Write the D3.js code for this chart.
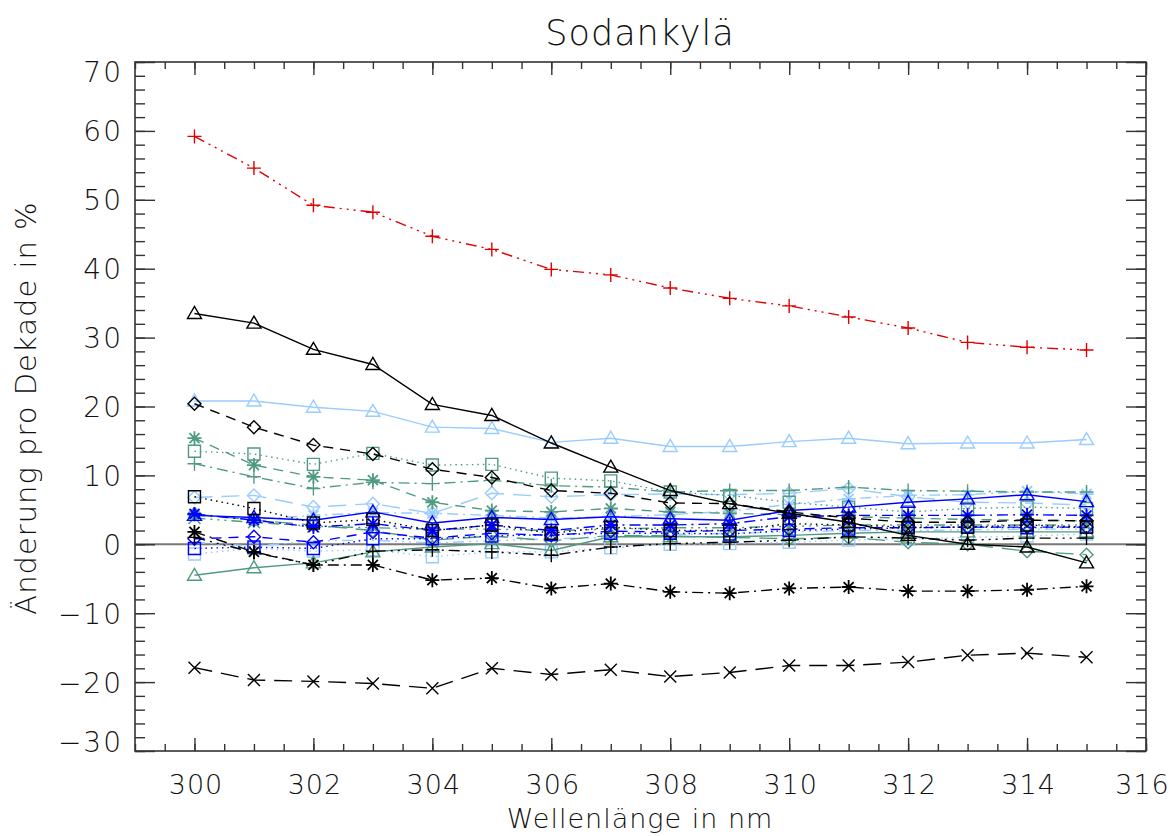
<!DOCTYPE html>
<html>
<head>
<meta charset="utf-8">
<script src="https://cdn.jsdelivr.net/npm/d3@7"></script>
<style>
  html, body { margin: 0; padding: 0; background: #fff; }
  svg { display: block; }
  text { font-family: "DejaVu Sans ExtraLight", "DejaVu Sans", sans-serif; font-weight: 200; fill: #111; }
</style>
</head>
<body>
<svg id="chart" width="1173" height="836"></svg>
<script>
// ---------- data ----------
const wavelengths = [300,301,302,303,304,305,306,307,308,309,310,311,312,313,314,315];
const xTickValues = [300,302,304,306,308,310,312,314,316];
const yTickValues = [-30,-20,-10,0,10,20,30,40,50,60,70];
const titleText = "Sodankylä";
const xTitle = "Wellenlänge in nm";
const yTitle = "Änderung pro Dekade in %";

const redPlus        = [59.2,54.6,49.2,48.2,44.7,42.8,39.9,39.1,37.2,35.7,34.6,33.0,31.4,29.3,28.6,28.2];
const blackTriangle  = [33.5,32.1,28.3,26.1,20.3,18.7,14.7,11.2,7.8,5.9,4.5,3.2,1.3,0.0,-0.4,-2.7];
const lightTriangle  = [20.8,20.8,19.9,19.3,17.0,16.8,14.8,15.4,14.2,14.2,14.9,15.4,14.6,14.7,14.7,15.2];
const blackDiamond   = [20.4,17.0,14.4,13.1,10.9,9.7,7.8,7.4,6.0,5.9,4.7,3.8,3.2,3.2,3.5,3.4];
const tealSquare     = [13.5,13.1,11.6,13.2,11.5,11.6,9.6,9.2,7.6,7.1,6.1,5.4,4.7,5.2,5.4,5.2];
const tealAsterisk   = [15.4,11.5,9.8,9.3,6.1,4.9,4.7,5.2,4.7,4.5,4.3,4.0,3.8,3.6,3.5,3.4];
const tealPlus       = [11.7,9.8,8.1,9.0,8.8,9.3,8.5,8.3,7.6,7.8,7.8,8.3,7.8,7.7,7.6,7.6];
const lightDiamond   = [6.8,7.1,5.4,5.9,4.5,7.4,6.9,7.2,7.3,7.2,7.4,8.1,6.9,6.1,6.0,5.7];
const lightAsterisk  = [4.2,3.6,4.2,4.6,4.5,4.2,3.8,4.0,4.3,4.8,5.8,6.6,7.1,7.2,7.7,7.3];
const lightSquare    = [-1.4,-0.6,-1.0,-0.8,-1.8,-1.1,-1.1,-0.5,0.0,0.1,0.3,0.6,0.8,1.0,1.2,1.5];
const lightDots      = [0.3,-0.3,0.5,0.6,0.2,0.5,0.8,1.0,1.4,1.6,1.8,2.0,2.0,2.1,2.2,2.2];
const blueTriangle   = [4.2,3.9,3.5,4.7,3.1,3.9,3.6,4.0,3.7,3.5,4.9,5.4,6.1,6.6,7.2,6.2];
const blueDiamond    = [0.8,1.1,0.3,1.8,0.9,1.6,1.3,1.9,1.8,2.0,2.2,2.4,2.4,2.5,2.5,2.5];
const blueAsterisk   = [4.4,3.5,2.5,3.0,2.0,2.8,2.0,2.8,2.8,3.0,4.0,4.2,4.2,4.2,4.3,4.2];
const blueSquare     = [-0.6,-0.4,-0.6,0.8,0.8,1.2,1.4,1.6,1.6,1.5,2.0,2.2,2.4,2.5,2.4,2.5];
const tealTriangle   = [-4.5,-3.4,-2.7,-1.1,-0.4,0.1,-0.9,1.1,1.1,1.1,1.3,1.6,1.8,1.8,1.8,1.8];
const tealDiamond    = [4.4,3.5,2.8,2.0,0.6,1.2,0.5,1.3,1.2,1.0,0.8,1.0,0.3,0.0,-1.0,-1.5];
const tealCross      = [3.8,3.2,2.6,2.4,2.2,2.2,2.0,2.2,2.4,2.4,2.6,2.8,2.8,2.8,2.8,2.8];
const blackSquare    = [6.9,5.2,3.1,3.6,2.0,2.8,1.6,2.5,2.0,2.0,3.0,2.8,2.5,2.5,2.8,2.5];
const blackAsterisk  = [1.8,-1.1,-3.0,-3.0,-5.2,-4.9,-6.4,-5.7,-6.9,-7.1,-6.4,-6.2,-6.8,-6.8,-6.6,-6.1];
const blackPlus      = [1.0,-1.2,-3.0,-1.0,-0.8,-1.1,-1.6,-0.4,0.1,0.3,0.6,1.1,0.9,0.6,0.9,0.9];
const blackCross     = [-17.9,-19.7,-19.9,-20.2,-20.9,-18.0,-18.9,-18.2,-19.2,-18.6,-17.6,-17.6,-17.1,-16.1,-15.8,-16.4];

// ---------- styles ----------
const C = { black: "#000000", red: "#e00000", light: "#99ccff", blue: "#0000ff", teal: "#4f9b80" };
const D = {
  solid: null,
  dotted: "1.5,4",
  dashed: "10,7",
  dashdot: "11,5,2,5",
  dash3dot: "11,5,2,5,2,5,2,5",
  longdash: "18,9"
};
const series = [
  { v: lightDots,     c: C.light, s: "none",     d: D.dash3dot },
  { v: lightSquare,   c: C.light, s: "square",   d: D.dotted },
  { v: lightAsterisk, c: C.light, s: "asterisk", d: D.dashdot },
  { v: lightDiamond,  c: C.light, s: "diamond",  d: D.longdash },
  { v: lightTriangle, c: C.light, s: "triangle", d: D.solid },
  { v: tealDiamond,   c: C.teal,  s: "diamond",  d: D.longdash },
  { v: tealCross,     c: C.teal,  s: "cross",    d: D.dash3dot },
  { v: tealTriangle,  c: C.teal,  s: "triangle", d: D.solid },
  { v: tealPlus,      c: C.teal,  s: "plus",     d: D.dashdot },
  { v: tealAsterisk,  c: C.teal,  s: "asterisk", d: D.dashed },
  { v: tealSquare,    c: C.teal,  s: "square",   d: D.dotted },
  { v: blueSquare,    c: C.blue,  s: "square",   d: D.dotted },
  { v: blueDiamond,   c: C.blue,  s: "diamond",  d: D.dashed },
  { v: blueAsterisk,  c: C.blue,  s: "asterisk", d: D.dashdot },
  { v: blueTriangle,  c: C.blue,  s: "triangle", d: D.solid },
  { v: blackPlus,     c: C.black, s: "plus",     d: D.dash3dot },
  { v: blackAsterisk, c: C.black, s: "asterisk", d: D.dashdot },
  { v: blackSquare,   c: C.black, s: "square",   d: D.dotted },
  { v: blackDiamond,  c: C.black, s: "diamond",  d: D.dashed },
  { v: blackCross,    c: C.black, s: "cross",    d: D.longdash },
  { v: blackTriangle, c: C.black, s: "triangle", d: D.solid },
  { v: redPlus,       c: C.red,   s: "plus",     d: D.dash3dot }
];

// ---------- layout ----------
const svg = d3.select("#chart");
const L = 135, R = 1146, T = 62, B = 751;
const x = d3.scaleLinear().domain([299, 316]).range([L, R]);
const y = d3.scaleLinear().domain([-30, 70]).range([B, T]);
const axisColor = "#333";

// zero line
svg.append("line")
  .attr("x1", L).attr("x2", R).attr("y1", y(0)).attr("y2", y(0))
  .attr("stroke", "#777").attr("stroke-width", 2);

// series
const line = d3.line().x((d, i) => x(wavelengths[i])).y(d => y(d));
const gS = svg.append("g");
function marker(g, type, cx, cy, color) {
  const p = g.append("path").attr("fill", "none").attr("stroke", color).attr("stroke-width", 1.4);
  let dstr = "";
  if (type === "triangle") {
    dstr = `M${cx-7},${cy+5}L${cx+7},${cy+5}L${cx},${cy-7}Z`;
  } else if (type === "square") {
    dstr = `M${cx-6},${cy-6}h12v12h-12Z`;
  } else if (type === "diamond") {
    dstr = `M${cx},${cy-6.5}L${cx+6.5},${cy}L${cx},${cy+6.5}L${cx-6.5},${cy}Z`;
  } else if (type === "plus") {
    dstr = `M${cx-7},${cy}h14M${cx},${cy-7}v14`;
  } else if (type === "asterisk") {
    dstr = `M${cx-7},${cy}h14M${cx},${cy-7}v14M${cx-5},${cy-5}l10,10M${cx-5},${cy+5}l10,-10`;
    p.attr("stroke-width", 1.8);
  } else if (type === "cross") {
    dstr = `M${cx-6},${cy-6}l12,12M${cx-6},${cy+6}l12,-12`;
  }
  p.attr("d", dstr);
}
series.forEach(sr => {
  const g = gS.append("g");
  g.append("path").datum(sr.v)
    .attr("d", line)
    .attr("fill", "none")
    .attr("stroke", sr.c)
    .attr("stroke-width", 1.4)
    .attr("stroke-dasharray", sr.d);
  if (sr.s !== "none") {
    sr.v.forEach((val, i) => marker(g, sr.s, x(wavelengths[i]), y(val), sr.c));
  }
});

// frame
svg.append("rect").attr("x", L).attr("y", T).attr("width", R - L).attr("height", B - T)
  .attr("fill", "none").attr("stroke", axisColor).attr("stroke-width", 1.6);

// axes with inward ticks
const xMinor = d3.range(299, 316.01, 0.5);
const yMinor = d3.range(-30, 70.01, 2);
function styleAxis(g) {
  g.select(".domain").remove();
  g.selectAll("line").attr("stroke", axisColor).attr("stroke-width", 1.4);
}
const fmt = d3.format("d");
const lastX = xTickValues[xTickValues.length - 1];
svg.append("g").attr("transform", `translate(0,${B})`)
  .call(d3.axisBottom(x).tickValues(xMinor).tickSize(-7).tickFormat(""))
  .call(styleAxis);
svg.append("g").attr("transform", `translate(0,${B})`)
  .call(d3.axisBottom(x).tickValues(xTickValues).tickSize(-13).tickPadding(24).tickFormat(fmt))
  .call(styleAxis)
  .call(g => g.selectAll("text").attr("font-size", 27).attr("fill", "#111")
    .style("letter-spacing", "1px")
    .attr("dx", d => d === lastX ? "-4px" : "1px"));
svg.append("g").attr("transform", `translate(0,${T})`)
  .call(d3.axisTop(x).tickValues(xMinor).tickSize(-7).tickFormat(""))
  .call(styleAxis);
svg.append("g").attr("transform", `translate(0,${T})`)
  .call(d3.axisTop(x).tickValues(xTickValues).tickSize(-13).tickFormat(""))
  .call(styleAxis);
svg.append("g").attr("transform", `translate(${L},0)`)
  .call(d3.axisLeft(y).tickValues(yMinor).tickSize(-10).tickFormat(""))
  .call(styleAxis);
svg.append("g").attr("transform", `translate(${L},0)`)
  .call(d3.axisLeft(y).tickValues(yTickValues).tickSize(-20).tickPadding(12).tickFormat(fmt))
  .call(styleAxis)
  .call(g => g.selectAll("text").attr("font-size", 28).attr("fill", "#111")
    .style("letter-spacing", "2px")
    .attr("dy", d => d === 70 ? "0.7em" : d === -30 ? "0.0em" : "0.36em"));
svg.append("g").attr("transform", `translate(${R},0)`)
  .call(d3.axisRight(y).tickValues(yMinor).tickSize(-10).tickFormat(""))
  .call(styleAxis);
svg.append("g").attr("transform", `translate(${R},0)`)
  .call(d3.axisRight(y).tickValues(yTickValues).tickSize(-20).tickFormat(""))
  .call(styleAxis);

// titles
svg.append("text").attr("x", 640).attr("y", 45).attr("text-anchor", "middle")
  .attr("font-size", 35).style("letter-spacing", "1px").text(titleText);
svg.append("text").attr("x", 640).attr("y", 828).attr("text-anchor", "middle")
  .attr("font-size", 27).style("letter-spacing", "1px").text(xTitle);
svg.append("text").attr("transform", `translate(36,408) rotate(-90)`)
  .attr("text-anchor", "middle").attr("font-size", 29).style("letter-spacing", "1px").text(yTitle);
</script>
</body>
</html>
